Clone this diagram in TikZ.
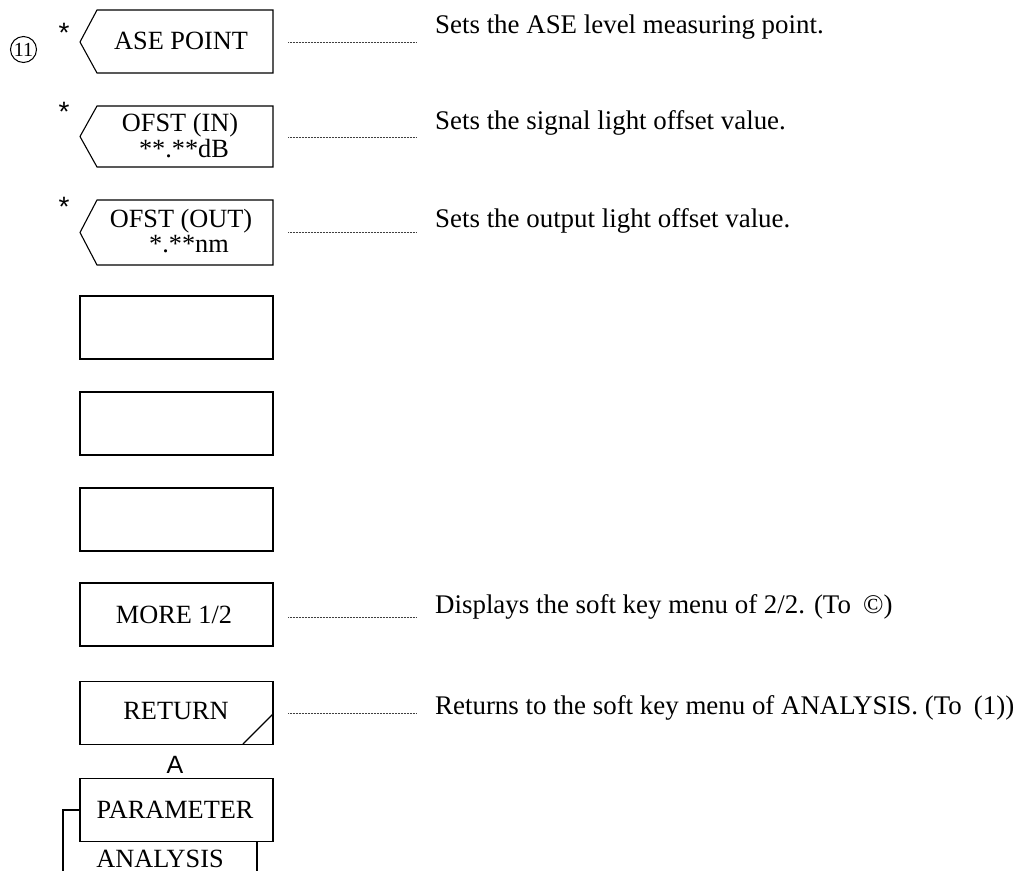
\documentclass[tikz,border=0pt]{standalone}
\usepackage{fontspec}
\setmainfont{Liberation Serif}
\newfontfamily\keysans{Liberation Sans}
\begin{document}
\begin{tikzpicture}[x=1pt,y=-1pt,
  keyline/.style={line width=1.1pt, line join=miter},
  keybox/.style={keyline, draw, rectangle, minimum width=193pt, minimum height=63pt, inner sep=0pt},
  lbl/.style={font=\fontsize{26.3}{28}\selectfont, inner sep=0pt, anchor=base},
  desc/.style={font=\fontsize{26.9}{28}\selectfont, inner sep=0pt, anchor=base west},
  star/.style={font=\keysans\fontsize{28}{30}\selectfont, inner sep=0pt},
  leader/.style={line width=0.7pt, black!75, dash pattern=on 1pt off 0.5pt}]
\useasboundingbox (0,0) rectangle (1021,871);

% menu number
\node[circle, draw, line width=1pt, minimum size=26pt, inner sep=0pt,
      font=\fontsize{20}{21}\selectfont] (num) at (23.5,49.5) {11};

% keys with a pointed left side
\draw[keyline] (273,10) -- (97,10) -- (80,42) -- (97,73) -- (273,73) -- cycle;
\draw[keyline] (273,106) -- (97,106) -- (80,136.5) -- (97,167) -- (273,167) -- cycle;
\draw[keyline] (273,200) -- (97,200) -- (80,232.5) -- (97,265) -- (273,265) -- cycle;
\node[star] (s1) at (64,33) {*};
\node[star] (s2) at (64,112) {*};
\node[star] (s3) at (64,207) {*};
\node[lbl] (ase) at (181,49) {ASE POINT};
\node[lbl] (inA) at (180,131) {OFST (IN)};
\node[lbl] (inB) at (184,157) {**.**dB};
\node[lbl] (outA) at (181,227) {OFST (OUT)};
\node[lbl] (outB) at (189,252) {*.**nm};

% plain keys
\node[keybox] (k4) at (176.5,327.5) {};
\node[keybox] (k5) at (176.5,423.5) {};
\node[keybox] (k6) at (176.5,519.5) {};
\node[keybox] (more) at (176.5,614.5) {};
\node[lbl] at (174,623) {MORE 1/2};
\node[keybox] (ret) at (176.5,713) {};
\node[lbl] at (176,719) {RETURN};
\draw[keyline] (243,744) -- (273,714);

% menu title below
\node[font=\keysans\fontsize{25}{26}\selectfont, inner sep=0pt, anchor=base] (lA) at (175,773) {A};
\node[keybox] (param) at (176.5,810) {};
\node[lbl] at (175,818) {PARAMETER};
\node[lbl] (ana) at (160,867) {ANALYSIS};
\draw[keyline] (257,842) -- (257,871);
\draw[keyline] (param.west) -- (63,810) -- (63,871);

% leader lines and descriptions
\foreach \yy/\nm in {42/l1,137/l2,232/l3,617/l4,713/l5}{
  \coordinate (\nm a) at (288,\yy);
  \coordinate (\nm b) at (417,\yy);
  \draw[leader] (\nm a) -- (\nm b);
}
\node[desc] (d1) at (435,33) {Sets the ASE level measuring point.};
\node[desc] (d2) at (435,129) {Sets the signal light offset value.};
\node[desc] (d3) at (435,227) {Sets the output light offset value.};
\node[desc] (d4) at (435,613) {Displays the soft key menu of 2/2. (To\hspace{0.45em}©)};
\node[desc] (d5) at (435,714) {Returns to the soft key menu of ANALYSIS. (To\hspace{0.45em}(1))};
\end{tikzpicture}
\end{document}
